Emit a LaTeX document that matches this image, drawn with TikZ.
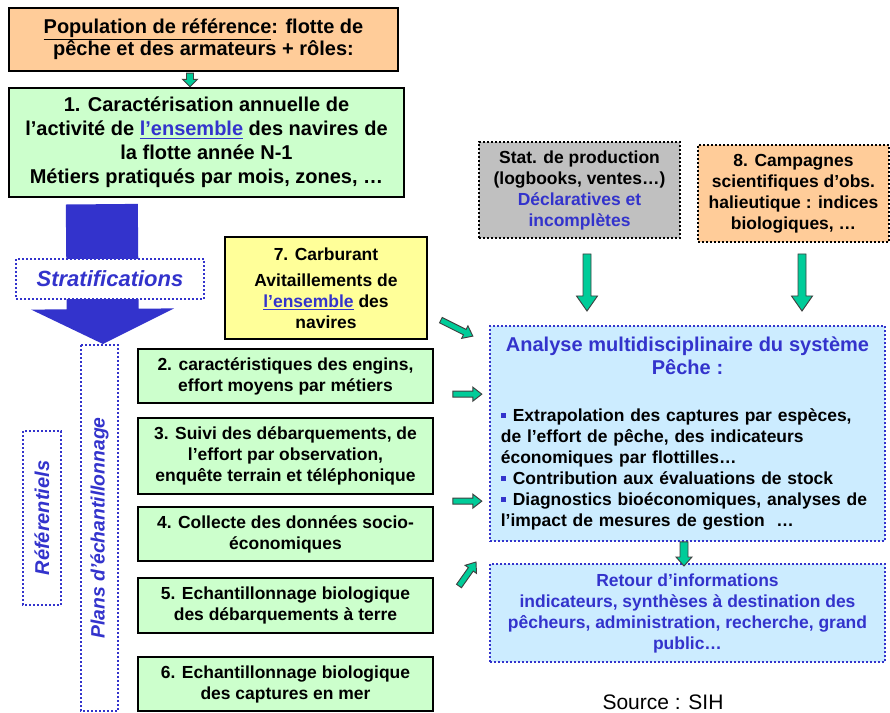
\documentclass[tikz,border=0pt]{standalone}
\usepackage{fontspec}
\setmainfont{Liberation Sans}
\usepackage{xcolor}
\usepackage{tikz}
\usetikzlibrary{calc}
\setlength{\parindent}{0pt}
\definecolor{peche}{RGB}{255,204,153}
\definecolor{vertclair}{RGB}{204,255,204}
\definecolor{jaune}{RGB}{255,255,153}
\definecolor{gris}{RGB}{192,192,192}
\definecolor{bleuclair}{RGB}{204,236,255}
\definecolor{bleu}{RGB}{51,51,204}
\definecolor{vert}{RGB}{0,204,153}

\tikzset{
  boite/.style={draw=black,line width=1.8pt,align=center,inner sep=1pt,
    font=\bfseries\fontsize{13.1}{15.75}\selectfont},
  etape/.style={boite,fill=vertclair,minimum width=221.25pt},
  pointille/.style={line width=1.5pt,dash pattern=on 1.5pt off 1.5pt},
  libelle/.style={pointille,draw=bleu,rotate=90,text=bleu,
    font=\bfseries\itshape\fontsize{14.5}{16}\selectfont},
  flechevert/.style={fill=vert,draw=black!75,line width=0.7pt},
  flechebleu/.style={fill=bleu,draw=none},
}

% freccia piena: [stile]{mezza asta}{mezza punta}{lunghezza punta}{da}{a}
\newcommand{\fleche}[6][flechevert]{%
  \path #5 coordinate (fA) #6 coordinate (fB);
  \path ($(fB)!#4*0.75pt!(fA)$) coordinate (fH);
  \draw[#1] ($(fA)!#2*0.75pt!90:(fB)$) -- ($(fH)!#2*0.75pt!-90:(fA)$)
    -- ($(fH)!#3*0.75pt!-90:(fA)$) -- (fB) -- ($(fH)!#3*0.75pt!90:(fA)$)
    -- ($(fH)!#2*0.75pt!90:(fA)$) -- ($(fA)!#2*0.75pt!-90:(fB)$) -- cycle;
}
\newcommand{\puce}{\textcolor{bleu}{\rule[2.6pt]{3.6pt}{3.6pt}}\hspace{5.4pt}}

\begin{document}
\begin{tikzpicture}[x=0.75pt,y=-0.75pt]
    \useasboundingbox (0,0) rectangle (890,713);

    % Popolazione di riferimento
    \node[boite,fill=peche,minimum width=291.75pt,minimum height=47.25pt,
      font=\bfseries\fontsize{15}{16.75}\selectfont] (pop) at (203.5,39.5)
      {\underline{Population de référence}: flotte de\\ pêche et des armateurs + rôles:};
    \node[boite,fill=vertclair,minimum width=296.25pt,minimum height=81.75pt,
      font=\bfseries\fontsize{15}{18}\selectfont] (caract) at (206.5,142.5)
      {1. Caractérisation annuelle de\\ l’activité de \textcolor{bleu}{\underline{l’ensemble}} des navires de\\ la flotte année N-1\\ Métiers pratiqués par mois, zones, …};

    % Etichette verticali
    \node[libelle,minimum width=274.5pt,minimum height=27.75pt] (plans) at (99.5,528) {Plans d’échantillonnage};
    \node[libelle,minimum width=130.5pt,minimum height=28.5pt,
      font=\bfseries\itshape\fontsize{15}{17}\selectfont] (ref) at (42,518) {Référentiels};

    % Piani di campionamento
    \node[etape,minimum height=40.5pt] (engins) at (285.5,376) {2. caractéristiques des engins,\\ effort moyens par métiers};
    \node[etape,minimum height=57pt] (debarq) at (285.5,456) {3. Suivi des débarquements, de\\ l’effort par observation,\\ enquête terrain et téléphonique};
    \node[etape,minimum height=40.5pt] (socio) at (285.5,534) {4. Collecte des données socio-\\ économiques};
    \node[etape,minimum height=41.25pt] (terre) at (285.5,605.5) {5. Echantillonnage biologique\\ des débarquements à terre};
    \node[etape,minimum height=40.5pt] (mer) at (285.5,684) {6. Echantillonnage biologique\\ des captures en mer};
    \node[boite,fill=jaune,minimum width=151.5pt,minimum height=76.5pt] (carbu) at (326,288)
      {7. Carburant\\[3.75pt] Avitaillements de\\ \textcolor{bleu}{\underline{l’ensemble}} des\\ navires};

    % Stratificazione
    \fleche[flechebleu]{36}{71.5}{35}{($(caract.south west)+(94,6)$)}{($(plans.east)+(3.5,0)$)}
    \node[pointille,draw=bleu,fill=white,minimum width=141pt,minimum height=30pt,text=bleu,
      font=\bfseries\itshape\fontsize{16.5}{19}\selectfont] (strat) at (110,279) {Stratifications};

    % Fonti esterne
    \node[boite,pointille,fill=gris,minimum width=150.75pt,minimum height=72pt] (stat) at (579.5,190)
      {Stat. de production\\ (logbooks, ventes…)\\ \textcolor{bleu}{Déclaratives et}\\ \textcolor{bleu}{incomplètes}};
    \node[boite,pointille,fill=peche,minimum width=143.25pt,minimum height=72.75pt] (camp) at (793.5,193.5)
      {8. Campagnes\\ scientifiques d’obs.\\ halieutique : indices\\ biologiques, …};

    % Analisi e ritorno
    \node[pointille,draw=bleu,fill=bleuclair,minimum width=296.25pt,minimum height=159.75pt,
      text width=280pt,inner sep=8.25pt,align=left,
      font=\bfseries\fontsize{13.1}{15.75}\selectfont] (analyse) at (687.5,433.5)
      {{\centering\fontsize{15}{17.25}\selectfont\color{bleu}Analyse multidisciplinaire du système\\ Pêche :\par}
       \vspace{19pt}
       \noindent\puce Extrapolation des captures par espèces,\\ de l’effort de pêche, des indicateurs\\ économiques par flottilles…\\ \puce Contribution aux évaluations de stock\\ \puce Diagnostics bioéconomiques, analyses de\\ l’impact de mesures de gestion\ \ …};
    \node[pointille,draw=bleu,fill=bleuclair,minimum width=296.25pt,minimum height=73.5pt,
      align=center,text=bleu,font=\bfseries\fontsize{13.1}{15.75}\selectfont] (retour) at (687.5,613)
      {Retour d’informations\\ indicateurs, synthèses à destination des\\ pêcheurs, administration, recherche, grand\\ public…};
    \node[anchor=base,font=\fontsize{15.75}{18}\selectfont] (source) at (663,709) {Source : SIH};

    % Frecce verdi
    \fleche{3.5}{7.5}{7.5}{($(pop.south)+(-13.5,1)$)}{($(caract.north)+(-16.5,0)$)}
    \fleche{4}{10.5}{15}{($(stat.south)+(7.5,15)$)}{($(stat.south)+(7.5,72)$)}
    \fleche{4}{10.5}{15}{($(camp.south)+(8.5,11)$)}{($(camp.south)+(8.5,68)$)}
    \fleche{4}{8}{9}{($(analyse.south)+(-3.5,0)$)}{($(retour.north)+(-3.5,3)$)}
    \fleche{3}{7}{9}{($(analyse.north west)+(-48,-5)$)}{($(analyse.north west)+(-16,11)$)}
    \fleche{3}{7}{9}{($(analyse.north west)+(-36,69)$)}{($(analyse.north west)+(-7,69)$)}
    \fleche{3}{7}{9}{($(analyse.north west)+(-36,176)$)}{($(analyse.north west)+(-7,176)$)}
    \fleche{3}{7}{9}{($(retour.north west)+(-30,23)$)}{($(retour.north west)+(-13,-1)$)}
\end{tikzpicture}
\end{document}
